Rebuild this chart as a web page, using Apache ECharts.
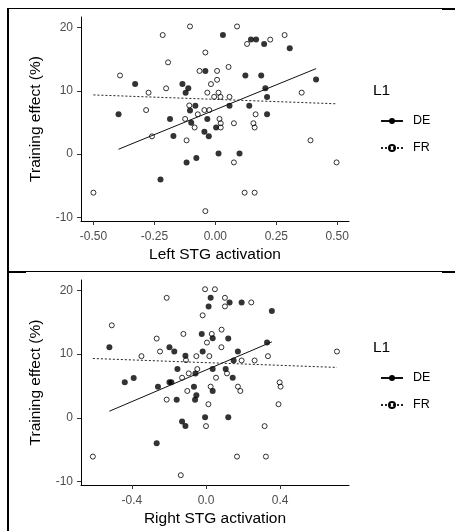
<!DOCTYPE html>
<html>
<head>
<meta charset="utf-8">
<script src="https://cdn.jsdelivr.net/npm/echarts@6/dist/echarts.min.js"></script>
<style>
html,body{margin:0;padding:0;background:#fff;}
#c{width:455px;height:531px;}
</style>
</head>
<body>
<div id="c"></div>
<script>
// ---- data ----
const leftDEx = [0.031, 0.146, 0.167, 0.200, 0.305, -0.041, 0.123, 0.188, 0.413, -0.329, -0.135, -0.111, -0.122, 0.205, 0.212, -0.397, -0.186, -0.082, -0.104, 0.058, 0.139, -0.033, 0.212, -0.099, 0.003, -0.172, -0.045, -0.027, 0.013, 0.099, -0.078, -0.118, -0.225];
const leftDEy = [18.8, 18.08, 18.08, 17.4, 16.73, 13.14, 12.42, 12.42, 11.79, 11.06, 11.06, 10.39, 9.71, 10.39, 9.04, 6.29, 5.56, 7.64, 6.91, 7.64, 7.64, 5.56, 6.29, 4.94, 4.21, 2.86, 3.53, 2.81, 0.1, 0.1, -0.62, -1.3, -4.0];
const leftFRx = [-0.104, 0.089, -0.216, 0.284, 0.225, 0.130, -0.041, -0.194, -0.391, -0.065, 0.007, 0.054, 0.007, -0.018, -0.202, -0.274, -0.033, 0.013, -0.005, 0.021, 0.058, 0.354, -0.107, -0.284, -0.045, -0.025, -0.072, -0.124, 0.017, 0.165, 0.022, 0.022, 0.076, 0.156, 0.161, -0.085, -0.260, -0.118, 0.390, 0.076, 0.497, -0.500, 0.120, 0.161, -0.041];
const leftFRy = [20.16, 20.16, 18.8, 18.8, 18.08, 17.4, 16.05, 14.49, 12.42, 13.14, 13.14, 13.77, 11.74, 11.06, 10.39, 9.71, 9.71, 9.71, 9.04, 9.04, 9.04, 9.71, 7.69, 6.96, 6.96, 6.96, 6.29, 5.56, 5.56, 6.29, 4.88, 4.21, 4.88, 4.88, 4.21, 4.21, 2.81, 2.18, 2.18, -1.3, -1.3, -6.08, -6.08, -6.08, -8.99];
const leftDEfitX = [-0.397, 0.413];
const leftDEfitY = [0.78, 13.5];
const leftFRfitX = [-0.5, 0.497];
const leftFRfitY = [9.35, 7.95];

const rightDEx = [0.025, 0.014, 0.127, 0.192, 0.355, -0.023, 0.036, 0.120, 0.329, -0.521, -0.197, -0.171, -0.018, 0.172, -0.111, 0.149, -0.154, 0.036, 0.106, -0.057, 0.144, -0.438, -0.390, -0.259, -0.197, -0.187, -0.065, 0.036, -0.158, -0.052, -0.059, -0.005, 0.120, -0.129, -0.111, -0.266];
const rightDEy = [18.85, 17.5, 18.13, 18.13, 16.77, 13.18, 12.5, 12.45, 11.82, 11.09, 11.09, 10.42, 10.42, 10.42, 9.74, 9.01, 7.66, 7.66, 7.66, 6.98, 6.3, 5.57, 6.25, 4.9, 5.57, 5.57, 4.9, 4.22, 2.86, 3.54, 2.86, 0.1, 0.1, -0.57, -1.3, -4.01];
const rightFRx = [-0.005, 0.048, -0.212, 0.102, 0.102, 0.244, -0.018, -0.508, -0.122, 0.031, 0.084, -0.266, 0.005, 0.083, -0.248, -0.348, -0.052, 0.018, 0.334, -0.108, 0.192, 0.262, 0.706, -0.047, -0.093, 0.113, -0.129, 0.054, 0.397, 0.402, 0.025, 0.172, 0.185, -0.101, -0.212, 0.013, 0.391, 0.000, 0.316, -0.610, 0.167, 0.323, -0.136];
const rightFRy = [20.2, 20.2, 18.85, 18.85, 17.5, 18.13, 16.1, 14.53, 13.18, 13.18, 13.85, 12.45, 11.82, 11.09, 10.42, 9.69, 9.69, 9.69, 9.69, 9.06, 9.01, 9.01, 10.42, 7.66, 6.98, 6.98, 6.3, 6.3, 5.57, 4.9, 4.9, 4.9, 4.22, 4.22, 2.86, 2.14, 2.14, -1.3, -1.3, -6.09, -6.09, -6.09, -9.01];
const rightDEfitX = [-0.521, 0.355];
const rightDEfitY = [1.04, 11.93];
const rightFRfitX = [-0.61, 0.706];
const rightFRfitY = [9.32, 7.92];

const leftTicks = [-0.5, -0.25, 0, 0.25, 0.5];
const rightTicks = [-0.4, 0, 0.4];
const yTicks = [-10, 0, 10, 20];
const groups = ['DE', 'FR'];
const legendTitle = 'L1';
const yTitle = 'Training effect (%)';
const xTitles = ['Left STG activation', 'Right STG activation'];

// ---- helpers ----
const zip = (xs, ys) => xs.map((x, i) => [x, ys[i]]);
const FONT = 'Liberation Sans, Arial, sans-serif';

function xAxisFor(idx, ticks, min, max, digits) {
  return {
    type: 'value', gridIndex: idx, min: min, max: max,
    name: xTitles[idx], nameLocation: 'middle', nameGap: 26,
    nameTextStyle: {fontSize: 15.5, color: '#000', fontFamily: FONT},
    axisLine: {onZero: false, lineStyle: {color: '#000', width: 1}},
    axisTick: {show: true, length: 4, customValues: ticks, lineStyle: {color: '#333'}},
    axisLabel: {customValues: ticks, margin: 10, color: '#4d4d4d', fontSize: 12, fontFamily: FONT,
      formatter: v => Number(v).toFixed(digits)},
    splitLine: {show: false}
  };
}
function yAxisFor(idx) {
  return {
    type: 'value', gridIndex: idx, min: -10.55, max: 21.65,
    name: yTitle, nameLocation: 'middle', nameGap: 37,
    nameTextStyle: {fontSize: 15.5, color: '#000', fontFamily: FONT},
    axisLine: {show: true, onZero: false, lineStyle: {color: '#000', width: 1}},
    axisTick: {show: true, length: 4, customValues: yTicks, lineStyle: {color: '#333'}},
    axisLabel: {customValues: yTicks, margin: 8, color: '#4d4d4d', fontSize: 12, fontFamily: FONT},
    splitLine: {show: false}
  };
}
function pointSeries(idx, name, xs, ys, filled) {
  return {
    type: 'scatter', name: name + ' pts', xAxisIndex: idx, yAxisIndex: idx,
    data: zip(xs, ys), symbol: 'circle', symbolSize: filled ? 6 : 5,
    itemStyle: filled ? {color: '#000'} : {color: 'rgba(255,255,255,0)', borderColor: '#000', borderWidth: 1},
    emphasis: {disabled: true}, z: 3
  };
}
function fitSeries(idx, name, xs, ys, dashed) {
  return {
    type: 'line', name: name, xAxisIndex: idx, yAxisIndex: idx,
    data: zip(xs, ys), showSymbol: false, symbol: 'circle',
    itemStyle: dashed ? {color: 'rgba(255,255,255,0)', borderColor: '#000', borderWidth: 1} : {color: '#000'},
    lineStyle: {color: dashed ? '#222' : '#111', width: 1, type: dashed ? [2, 2] : 'solid'},
    emphasis: {disabled: true}, z: 4, animation: false
  };
}
function legendFor(top) {
  return {
    orient: 'vertical', left: 375, top: top, itemWidth: 22, itemHeight: 7.5, itemGap: 13,
    data: groups.map(g => ({name: g})),
    textStyle: {fontSize: 12.5, color: '#000', fontFamily: FONT, lineHeight: 14, padding: [0, 0, 0, 5]},
    selectedMode: false
  };
}

const chart = echarts.init(document.getElementById('c'), null, {renderer: 'canvas'});

const series = [
  pointSeries(0, 'DE', leftDEx, leftDEy, true),
  pointSeries(0, 'FR', leftFRx, leftFRy, false),
  fitSeries(0, 'DE', leftDEfitX, leftDEfitY, false),
  fitSeries(0, 'FR', leftFRfitX, leftFRfitY, true),
  pointSeries(1, 'DE2', rightDEx, rightDEy, true),
  pointSeries(1, 'FR2', rightFRx, rightFRy, false),
  fitSeries(1, 'DE ', rightDEfitX, rightDEfitY, false),
  fitSeries(1, 'FR ', rightFRfitX, rightFRfitY, true)
];

const lg0 = legendFor(109);
const lg1 = legendFor(366);
lg1.data = groups.map(g => ({name: g + ' '}));
lg1.formatter = n => n.trim();

chart.setOption({
  animation: false,
  backgroundColor: '#fff',
  textStyle: {fontFamily: FONT},
  grid: [
    {left: 81, top: 17, width: 268, height: 204},
    {left: 81, top: 280, width: 268, height: 205}
  ],
  xAxis: [
    xAxisFor(0, leftTicks, -0.551, 0.548, 2),
    xAxisFor(1, rightTicks, -0.674, 0.771, 1)
  ],
  yAxis: [yAxisFor(0), yAxisFor(1)],
  legend: [lg0, lg1],
  series: series,
  graphic: [
    {type: 'text', left: 373, top: 83, style: {text: legendTitle, font: '15.5px ' + FONT, fill: '#000'}},
    {type: 'text', left: 373, top: 340, style: {text: legendTitle, font: '15.5px ' + FONT, fill: '#000'}},
    // figure frame lines
    {type: 'line', shape: {x1: 8, y1: 8, x2: 8, y2: 531}, style: {stroke: '#000', lineWidth: 2}},
    {type: 'line', shape: {x1: 7, y1: 8.5, x2: 455, y2: 8.5}, style: {stroke: '#000', lineWidth: 1}},
    {type: 'line', shape: {x1: 7, y1: 271.5, x2: 455, y2: 271.5}, style: {stroke: '#000', lineWidth: 1}},
    {type: 'line', shape: {x1: 442, y1: 9, x2: 455, y2: 9}, style: {stroke: '#000', lineWidth: 2}},
    {type: 'line', shape: {x1: 442, y1: 272, x2: 455, y2: 272}, style: {stroke: '#000', lineWidth: 2}},
    {type: 'line', shape: {x1: 7, y1: 272, x2: 26, y2: 272}, style: {stroke: '#000', lineWidth: 2}}
  ]
});
</script>
</body>
</html>
